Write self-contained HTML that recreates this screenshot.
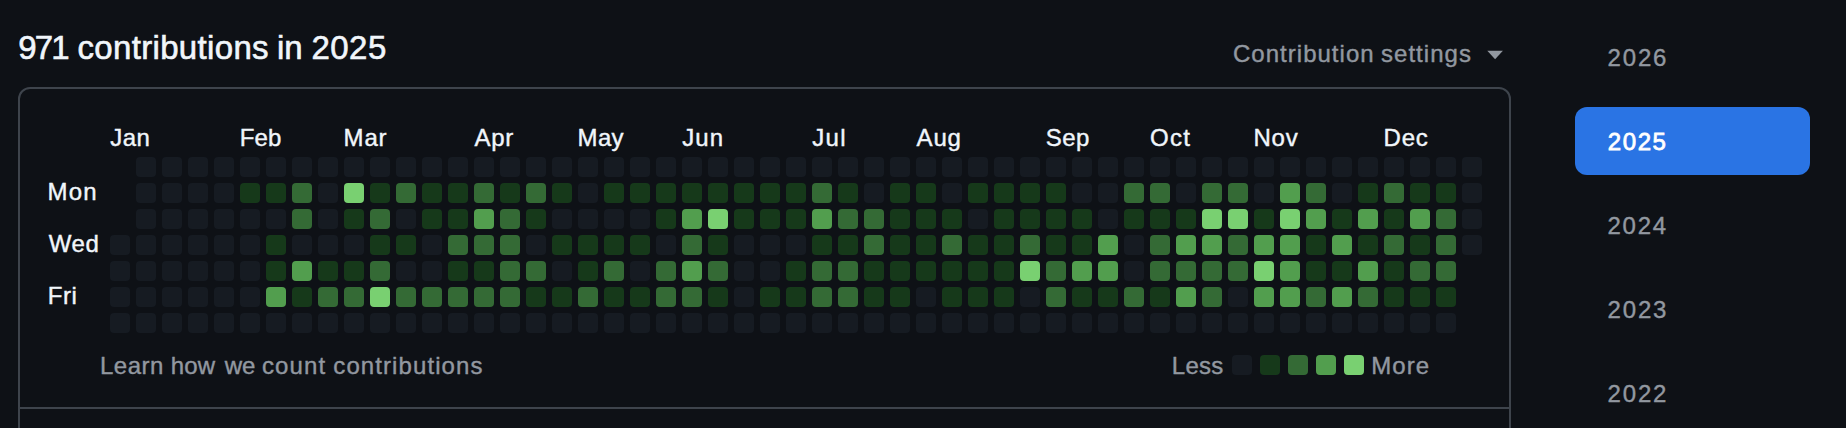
<!DOCTYPE html>
<html lang="en"><head><meta charset="utf-8"><title>Contributions</title>
<style>
html,body{margin:0;padding:0;background:#0e1116;}
body{width:1846px;height:428px;position:relative;overflow:hidden;font-family:"Liberation Sans",sans-serif;color:#f1f6fb;}
.t{position:absolute;white-space:nowrap;font-size:24px;line-height:28px;}
.m{color:#9298a0;}
.box{position:absolute;left:18px;top:87px;width:1489px;height:400px;border:2px solid #3e444c;border-radius:12px;}
.hr{position:absolute;left:20px;top:407px;width:1489px;height:2px;background:#3e444c;}
.btn{position:absolute;left:1575px;top:107px;width:235px;height:68px;border-radius:12px;background:#2a74e4;}
svg{position:absolute;left:0;top:0;}
h2{margin:0;font-weight:normal;font-size:24px;}
</style></head><body>
<div class="box"></div><div class="hr"></div>
<div class="btn"></div>
<svg width="1846" height="428" viewBox="0 0 1846 428">
<rect x="136" y="157" width="20" height="20" rx="4" fill="#161b22"/><rect x="162" y="157" width="20" height="20" rx="4" fill="#161b22"/><rect x="188" y="157" width="20" height="20" rx="4" fill="#161b22"/><rect x="214" y="157" width="20" height="20" rx="4" fill="#161b22"/><rect x="240" y="157" width="20" height="20" rx="4" fill="#161b22"/><rect x="266" y="157" width="20" height="20" rx="4" fill="#161b22"/><rect x="292" y="157" width="20" height="20" rx="4" fill="#161b22"/><rect x="318" y="157" width="20" height="20" rx="4" fill="#161b22"/><rect x="344" y="157" width="20" height="20" rx="4" fill="#161b22"/><rect x="370" y="157" width="20" height="20" rx="4" fill="#161b22"/><rect x="396" y="157" width="20" height="20" rx="4" fill="#161b22"/><rect x="422" y="157" width="20" height="20" rx="4" fill="#161b22"/><rect x="448" y="157" width="20" height="20" rx="4" fill="#161b22"/><rect x="474" y="157" width="20" height="20" rx="4" fill="#161b22"/><rect x="500" y="157" width="20" height="20" rx="4" fill="#161b22"/><rect x="526" y="157" width="20" height="20" rx="4" fill="#161b22"/><rect x="552" y="157" width="20" height="20" rx="4" fill="#161b22"/><rect x="578" y="157" width="20" height="20" rx="4" fill="#161b22"/><rect x="604" y="157" width="20" height="20" rx="4" fill="#161b22"/><rect x="630" y="157" width="20" height="20" rx="4" fill="#161b22"/><rect x="656" y="157" width="20" height="20" rx="4" fill="#161b22"/><rect x="682" y="157" width="20" height="20" rx="4" fill="#161b22"/><rect x="708" y="157" width="20" height="20" rx="4" fill="#161b22"/><rect x="734" y="157" width="20" height="20" rx="4" fill="#161b22"/><rect x="760" y="157" width="20" height="20" rx="4" fill="#161b22"/><rect x="786" y="157" width="20" height="20" rx="4" fill="#161b22"/><rect x="812" y="157" width="20" height="20" rx="4" fill="#161b22"/><rect x="838" y="157" width="20" height="20" rx="4" fill="#161b22"/><rect x="864" y="157" width="20" height="20" rx="4" fill="#161b22"/><rect x="890" y="157" width="20" height="20" rx="4" fill="#161b22"/><rect x="916" y="157" width="20" height="20" rx="4" fill="#161b22"/><rect x="942" y="157" width="20" height="20" rx="4" fill="#161b22"/><rect x="968" y="157" width="20" height="20" rx="4" fill="#161b22"/><rect x="994" y="157" width="20" height="20" rx="4" fill="#161b22"/><rect x="1020" y="157" width="20" height="20" rx="4" fill="#161b22"/><rect x="1046" y="157" width="20" height="20" rx="4" fill="#161b22"/><rect x="1072" y="157" width="20" height="20" rx="4" fill="#161b22"/><rect x="1098" y="157" width="20" height="20" rx="4" fill="#161b22"/><rect x="1124" y="157" width="20" height="20" rx="4" fill="#161b22"/><rect x="1150" y="157" width="20" height="20" rx="4" fill="#161b22"/><rect x="1176" y="157" width="20" height="20" rx="4" fill="#161b22"/><rect x="1202" y="157" width="20" height="20" rx="4" fill="#161b22"/><rect x="1228" y="157" width="20" height="20" rx="4" fill="#161b22"/><rect x="1254" y="157" width="20" height="20" rx="4" fill="#161b22"/><rect x="1280" y="157" width="20" height="20" rx="4" fill="#161b22"/><rect x="1306" y="157" width="20" height="20" rx="4" fill="#161b22"/><rect x="1332" y="157" width="20" height="20" rx="4" fill="#161b22"/><rect x="1358" y="157" width="20" height="20" rx="4" fill="#161b22"/><rect x="1384" y="157" width="20" height="20" rx="4" fill="#161b22"/><rect x="1410" y="157" width="20" height="20" rx="4" fill="#161b22"/><rect x="1436" y="157" width="20" height="20" rx="4" fill="#161b22"/><rect x="1462" y="157" width="20" height="20" rx="4" fill="#161b22"/><rect x="136" y="183" width="20" height="20" rx="4" fill="#161b22"/><rect x="162" y="183" width="20" height="20" rx="4" fill="#161b22"/><rect x="188" y="183" width="20" height="20" rx="4" fill="#161b22"/><rect x="214" y="183" width="20" height="20" rx="4" fill="#161b22"/><rect x="240" y="183" width="20" height="20" rx="4" fill="#16391a"/><rect x="266" y="183" width="20" height="20" rx="4" fill="#16391a"/><rect x="292" y="183" width="20" height="20" rx="4" fill="#346a35"/><rect x="318" y="183" width="20" height="20" rx="4" fill="#161b22"/><rect x="344" y="183" width="20" height="20" rx="4" fill="#79d071"/><rect x="370" y="183" width="20" height="20" rx="4" fill="#16391a"/><rect x="396" y="183" width="20" height="20" rx="4" fill="#346a35"/><rect x="422" y="183" width="20" height="20" rx="4" fill="#16391a"/><rect x="448" y="183" width="20" height="20" rx="4" fill="#16391a"/><rect x="474" y="183" width="20" height="20" rx="4" fill="#346a35"/><rect x="500" y="183" width="20" height="20" rx="4" fill="#16391a"/><rect x="526" y="183" width="20" height="20" rx="4" fill="#346a35"/><rect x="552" y="183" width="20" height="20" rx="4" fill="#16391a"/><rect x="578" y="183" width="20" height="20" rx="4" fill="#161b22"/><rect x="604" y="183" width="20" height="20" rx="4" fill="#16391a"/><rect x="630" y="183" width="20" height="20" rx="4" fill="#16391a"/><rect x="656" y="183" width="20" height="20" rx="4" fill="#16391a"/><rect x="682" y="183" width="20" height="20" rx="4" fill="#16391a"/><rect x="708" y="183" width="20" height="20" rx="4" fill="#16391a"/><rect x="734" y="183" width="20" height="20" rx="4" fill="#16391a"/><rect x="760" y="183" width="20" height="20" rx="4" fill="#16391a"/><rect x="786" y="183" width="20" height="20" rx="4" fill="#16391a"/><rect x="812" y="183" width="20" height="20" rx="4" fill="#346a35"/><rect x="838" y="183" width="20" height="20" rx="4" fill="#16391a"/><rect x="864" y="183" width="20" height="20" rx="4" fill="#161b22"/><rect x="890" y="183" width="20" height="20" rx="4" fill="#16391a"/><rect x="916" y="183" width="20" height="20" rx="4" fill="#16391a"/><rect x="942" y="183" width="20" height="20" rx="4" fill="#161b22"/><rect x="968" y="183" width="20" height="20" rx="4" fill="#16391a"/><rect x="994" y="183" width="20" height="20" rx="4" fill="#16391a"/><rect x="1020" y="183" width="20" height="20" rx="4" fill="#16391a"/><rect x="1046" y="183" width="20" height="20" rx="4" fill="#16391a"/><rect x="1072" y="183" width="20" height="20" rx="4" fill="#161b22"/><rect x="1098" y="183" width="20" height="20" rx="4" fill="#161b22"/><rect x="1124" y="183" width="20" height="20" rx="4" fill="#346a35"/><rect x="1150" y="183" width="20" height="20" rx="4" fill="#346a35"/><rect x="1176" y="183" width="20" height="20" rx="4" fill="#161b22"/><rect x="1202" y="183" width="20" height="20" rx="4" fill="#346a35"/><rect x="1228" y="183" width="20" height="20" rx="4" fill="#346a35"/><rect x="1254" y="183" width="20" height="20" rx="4" fill="#161b22"/><rect x="1280" y="183" width="20" height="20" rx="4" fill="#529e4e"/><rect x="1306" y="183" width="20" height="20" rx="4" fill="#346a35"/><rect x="1332" y="183" width="20" height="20" rx="4" fill="#161b22"/><rect x="1358" y="183" width="20" height="20" rx="4" fill="#16391a"/><rect x="1384" y="183" width="20" height="20" rx="4" fill="#346a35"/><rect x="1410" y="183" width="20" height="20" rx="4" fill="#16391a"/><rect x="1436" y="183" width="20" height="20" rx="4" fill="#16391a"/><rect x="1462" y="183" width="20" height="20" rx="4" fill="#161b22"/><rect x="136" y="209" width="20" height="20" rx="4" fill="#161b22"/><rect x="162" y="209" width="20" height="20" rx="4" fill="#161b22"/><rect x="188" y="209" width="20" height="20" rx="4" fill="#161b22"/><rect x="214" y="209" width="20" height="20" rx="4" fill="#161b22"/><rect x="240" y="209" width="20" height="20" rx="4" fill="#161b22"/><rect x="266" y="209" width="20" height="20" rx="4" fill="#161b22"/><rect x="292" y="209" width="20" height="20" rx="4" fill="#346a35"/><rect x="318" y="209" width="20" height="20" rx="4" fill="#161b22"/><rect x="344" y="209" width="20" height="20" rx="4" fill="#16391a"/><rect x="370" y="209" width="20" height="20" rx="4" fill="#346a35"/><rect x="396" y="209" width="20" height="20" rx="4" fill="#161b22"/><rect x="422" y="209" width="20" height="20" rx="4" fill="#16391a"/><rect x="448" y="209" width="20" height="20" rx="4" fill="#16391a"/><rect x="474" y="209" width="20" height="20" rx="4" fill="#529e4e"/><rect x="500" y="209" width="20" height="20" rx="4" fill="#346a35"/><rect x="526" y="209" width="20" height="20" rx="4" fill="#16391a"/><rect x="552" y="209" width="20" height="20" rx="4" fill="#161b22"/><rect x="578" y="209" width="20" height="20" rx="4" fill="#161b22"/><rect x="604" y="209" width="20" height="20" rx="4" fill="#161b22"/><rect x="630" y="209" width="20" height="20" rx="4" fill="#161b22"/><rect x="656" y="209" width="20" height="20" rx="4" fill="#16391a"/><rect x="682" y="209" width="20" height="20" rx="4" fill="#529e4e"/><rect x="708" y="209" width="20" height="20" rx="4" fill="#79d071"/><rect x="734" y="209" width="20" height="20" rx="4" fill="#16391a"/><rect x="760" y="209" width="20" height="20" rx="4" fill="#16391a"/><rect x="786" y="209" width="20" height="20" rx="4" fill="#16391a"/><rect x="812" y="209" width="20" height="20" rx="4" fill="#529e4e"/><rect x="838" y="209" width="20" height="20" rx="4" fill="#346a35"/><rect x="864" y="209" width="20" height="20" rx="4" fill="#346a35"/><rect x="890" y="209" width="20" height="20" rx="4" fill="#16391a"/><rect x="916" y="209" width="20" height="20" rx="4" fill="#16391a"/><rect x="942" y="209" width="20" height="20" rx="4" fill="#16391a"/><rect x="968" y="209" width="20" height="20" rx="4" fill="#161b22"/><rect x="994" y="209" width="20" height="20" rx="4" fill="#16391a"/><rect x="1020" y="209" width="20" height="20" rx="4" fill="#16391a"/><rect x="1046" y="209" width="20" height="20" rx="4" fill="#16391a"/><rect x="1072" y="209" width="20" height="20" rx="4" fill="#16391a"/><rect x="1098" y="209" width="20" height="20" rx="4" fill="#161b22"/><rect x="1124" y="209" width="20" height="20" rx="4" fill="#16391a"/><rect x="1150" y="209" width="20" height="20" rx="4" fill="#16391a"/><rect x="1176" y="209" width="20" height="20" rx="4" fill="#16391a"/><rect x="1202" y="209" width="20" height="20" rx="4" fill="#79d071"/><rect x="1228" y="209" width="20" height="20" rx="4" fill="#79d071"/><rect x="1254" y="209" width="20" height="20" rx="4" fill="#16391a"/><rect x="1280" y="209" width="20" height="20" rx="4" fill="#79d071"/><rect x="1306" y="209" width="20" height="20" rx="4" fill="#529e4e"/><rect x="1332" y="209" width="20" height="20" rx="4" fill="#16391a"/><rect x="1358" y="209" width="20" height="20" rx="4" fill="#529e4e"/><rect x="1384" y="209" width="20" height="20" rx="4" fill="#16391a"/><rect x="1410" y="209" width="20" height="20" rx="4" fill="#529e4e"/><rect x="1436" y="209" width="20" height="20" rx="4" fill="#346a35"/><rect x="1462" y="209" width="20" height="20" rx="4" fill="#161b22"/><rect x="110" y="235" width="20" height="20" rx="4" fill="#161b22"/><rect x="136" y="235" width="20" height="20" rx="4" fill="#161b22"/><rect x="162" y="235" width="20" height="20" rx="4" fill="#161b22"/><rect x="188" y="235" width="20" height="20" rx="4" fill="#161b22"/><rect x="214" y="235" width="20" height="20" rx="4" fill="#161b22"/><rect x="240" y="235" width="20" height="20" rx="4" fill="#161b22"/><rect x="266" y="235" width="20" height="20" rx="4" fill="#16391a"/><rect x="292" y="235" width="20" height="20" rx="4" fill="#161b22"/><rect x="318" y="235" width="20" height="20" rx="4" fill="#161b22"/><rect x="344" y="235" width="20" height="20" rx="4" fill="#161b22"/><rect x="370" y="235" width="20" height="20" rx="4" fill="#16391a"/><rect x="396" y="235" width="20" height="20" rx="4" fill="#16391a"/><rect x="422" y="235" width="20" height="20" rx="4" fill="#161b22"/><rect x="448" y="235" width="20" height="20" rx="4" fill="#346a35"/><rect x="474" y="235" width="20" height="20" rx="4" fill="#346a35"/><rect x="500" y="235" width="20" height="20" rx="4" fill="#346a35"/><rect x="526" y="235" width="20" height="20" rx="4" fill="#161b22"/><rect x="552" y="235" width="20" height="20" rx="4" fill="#16391a"/><rect x="578" y="235" width="20" height="20" rx="4" fill="#16391a"/><rect x="604" y="235" width="20" height="20" rx="4" fill="#16391a"/><rect x="630" y="235" width="20" height="20" rx="4" fill="#16391a"/><rect x="656" y="235" width="20" height="20" rx="4" fill="#161b22"/><rect x="682" y="235" width="20" height="20" rx="4" fill="#346a35"/><rect x="708" y="235" width="20" height="20" rx="4" fill="#16391a"/><rect x="734" y="235" width="20" height="20" rx="4" fill="#161b22"/><rect x="760" y="235" width="20" height="20" rx="4" fill="#161b22"/><rect x="786" y="235" width="20" height="20" rx="4" fill="#161b22"/><rect x="812" y="235" width="20" height="20" rx="4" fill="#16391a"/><rect x="838" y="235" width="20" height="20" rx="4" fill="#16391a"/><rect x="864" y="235" width="20" height="20" rx="4" fill="#346a35"/><rect x="890" y="235" width="20" height="20" rx="4" fill="#16391a"/><rect x="916" y="235" width="20" height="20" rx="4" fill="#16391a"/><rect x="942" y="235" width="20" height="20" rx="4" fill="#346a35"/><rect x="968" y="235" width="20" height="20" rx="4" fill="#16391a"/><rect x="994" y="235" width="20" height="20" rx="4" fill="#16391a"/><rect x="1020" y="235" width="20" height="20" rx="4" fill="#346a35"/><rect x="1046" y="235" width="20" height="20" rx="4" fill="#16391a"/><rect x="1072" y="235" width="20" height="20" rx="4" fill="#16391a"/><rect x="1098" y="235" width="20" height="20" rx="4" fill="#529e4e"/><rect x="1124" y="235" width="20" height="20" rx="4" fill="#161b22"/><rect x="1150" y="235" width="20" height="20" rx="4" fill="#346a35"/><rect x="1176" y="235" width="20" height="20" rx="4" fill="#529e4e"/><rect x="1202" y="235" width="20" height="20" rx="4" fill="#529e4e"/><rect x="1228" y="235" width="20" height="20" rx="4" fill="#346a35"/><rect x="1254" y="235" width="20" height="20" rx="4" fill="#529e4e"/><rect x="1280" y="235" width="20" height="20" rx="4" fill="#529e4e"/><rect x="1306" y="235" width="20" height="20" rx="4" fill="#16391a"/><rect x="1332" y="235" width="20" height="20" rx="4" fill="#529e4e"/><rect x="1358" y="235" width="20" height="20" rx="4" fill="#16391a"/><rect x="1384" y="235" width="20" height="20" rx="4" fill="#346a35"/><rect x="1410" y="235" width="20" height="20" rx="4" fill="#16391a"/><rect x="1436" y="235" width="20" height="20" rx="4" fill="#346a35"/><rect x="1462" y="235" width="20" height="20" rx="4" fill="#161b22"/><rect x="110" y="261" width="20" height="20" rx="4" fill="#161b22"/><rect x="136" y="261" width="20" height="20" rx="4" fill="#161b22"/><rect x="162" y="261" width="20" height="20" rx="4" fill="#161b22"/><rect x="188" y="261" width="20" height="20" rx="4" fill="#161b22"/><rect x="214" y="261" width="20" height="20" rx="4" fill="#161b22"/><rect x="240" y="261" width="20" height="20" rx="4" fill="#161b22"/><rect x="266" y="261" width="20" height="20" rx="4" fill="#16391a"/><rect x="292" y="261" width="20" height="20" rx="4" fill="#529e4e"/><rect x="318" y="261" width="20" height="20" rx="4" fill="#16391a"/><rect x="344" y="261" width="20" height="20" rx="4" fill="#16391a"/><rect x="370" y="261" width="20" height="20" rx="4" fill="#346a35"/><rect x="396" y="261" width="20" height="20" rx="4" fill="#161b22"/><rect x="422" y="261" width="20" height="20" rx="4" fill="#161b22"/><rect x="448" y="261" width="20" height="20" rx="4" fill="#16391a"/><rect x="474" y="261" width="20" height="20" rx="4" fill="#16391a"/><rect x="500" y="261" width="20" height="20" rx="4" fill="#346a35"/><rect x="526" y="261" width="20" height="20" rx="4" fill="#346a35"/><rect x="552" y="261" width="20" height="20" rx="4" fill="#161b22"/><rect x="578" y="261" width="20" height="20" rx="4" fill="#16391a"/><rect x="604" y="261" width="20" height="20" rx="4" fill="#346a35"/><rect x="630" y="261" width="20" height="20" rx="4" fill="#161b22"/><rect x="656" y="261" width="20" height="20" rx="4" fill="#346a35"/><rect x="682" y="261" width="20" height="20" rx="4" fill="#529e4e"/><rect x="708" y="261" width="20" height="20" rx="4" fill="#346a35"/><rect x="734" y="261" width="20" height="20" rx="4" fill="#161b22"/><rect x="760" y="261" width="20" height="20" rx="4" fill="#161b22"/><rect x="786" y="261" width="20" height="20" rx="4" fill="#16391a"/><rect x="812" y="261" width="20" height="20" rx="4" fill="#346a35"/><rect x="838" y="261" width="20" height="20" rx="4" fill="#346a35"/><rect x="864" y="261" width="20" height="20" rx="4" fill="#16391a"/><rect x="890" y="261" width="20" height="20" rx="4" fill="#16391a"/><rect x="916" y="261" width="20" height="20" rx="4" fill="#16391a"/><rect x="942" y="261" width="20" height="20" rx="4" fill="#16391a"/><rect x="968" y="261" width="20" height="20" rx="4" fill="#16391a"/><rect x="994" y="261" width="20" height="20" rx="4" fill="#16391a"/><rect x="1020" y="261" width="20" height="20" rx="4" fill="#79d071"/><rect x="1046" y="261" width="20" height="20" rx="4" fill="#346a35"/><rect x="1072" y="261" width="20" height="20" rx="4" fill="#529e4e"/><rect x="1098" y="261" width="20" height="20" rx="4" fill="#529e4e"/><rect x="1124" y="261" width="20" height="20" rx="4" fill="#161b22"/><rect x="1150" y="261" width="20" height="20" rx="4" fill="#346a35"/><rect x="1176" y="261" width="20" height="20" rx="4" fill="#346a35"/><rect x="1202" y="261" width="20" height="20" rx="4" fill="#346a35"/><rect x="1228" y="261" width="20" height="20" rx="4" fill="#346a35"/><rect x="1254" y="261" width="20" height="20" rx="4" fill="#79d071"/><rect x="1280" y="261" width="20" height="20" rx="4" fill="#529e4e"/><rect x="1306" y="261" width="20" height="20" rx="4" fill="#16391a"/><rect x="1332" y="261" width="20" height="20" rx="4" fill="#16391a"/><rect x="1358" y="261" width="20" height="20" rx="4" fill="#529e4e"/><rect x="1384" y="261" width="20" height="20" rx="4" fill="#16391a"/><rect x="1410" y="261" width="20" height="20" rx="4" fill="#346a35"/><rect x="1436" y="261" width="20" height="20" rx="4" fill="#346a35"/><rect x="110" y="287" width="20" height="20" rx="4" fill="#161b22"/><rect x="136" y="287" width="20" height="20" rx="4" fill="#161b22"/><rect x="162" y="287" width="20" height="20" rx="4" fill="#161b22"/><rect x="188" y="287" width="20" height="20" rx="4" fill="#161b22"/><rect x="214" y="287" width="20" height="20" rx="4" fill="#161b22"/><rect x="240" y="287" width="20" height="20" rx="4" fill="#161b22"/><rect x="266" y="287" width="20" height="20" rx="4" fill="#529e4e"/><rect x="292" y="287" width="20" height="20" rx="4" fill="#16391a"/><rect x="318" y="287" width="20" height="20" rx="4" fill="#346a35"/><rect x="344" y="287" width="20" height="20" rx="4" fill="#346a35"/><rect x="370" y="287" width="20" height="20" rx="4" fill="#79d071"/><rect x="396" y="287" width="20" height="20" rx="4" fill="#346a35"/><rect x="422" y="287" width="20" height="20" rx="4" fill="#346a35"/><rect x="448" y="287" width="20" height="20" rx="4" fill="#346a35"/><rect x="474" y="287" width="20" height="20" rx="4" fill="#346a35"/><rect x="500" y="287" width="20" height="20" rx="4" fill="#346a35"/><rect x="526" y="287" width="20" height="20" rx="4" fill="#16391a"/><rect x="552" y="287" width="20" height="20" rx="4" fill="#16391a"/><rect x="578" y="287" width="20" height="20" rx="4" fill="#346a35"/><rect x="604" y="287" width="20" height="20" rx="4" fill="#16391a"/><rect x="630" y="287" width="20" height="20" rx="4" fill="#16391a"/><rect x="656" y="287" width="20" height="20" rx="4" fill="#346a35"/><rect x="682" y="287" width="20" height="20" rx="4" fill="#346a35"/><rect x="708" y="287" width="20" height="20" rx="4" fill="#16391a"/><rect x="734" y="287" width="20" height="20" rx="4" fill="#161b22"/><rect x="760" y="287" width="20" height="20" rx="4" fill="#16391a"/><rect x="786" y="287" width="20" height="20" rx="4" fill="#16391a"/><rect x="812" y="287" width="20" height="20" rx="4" fill="#346a35"/><rect x="838" y="287" width="20" height="20" rx="4" fill="#346a35"/><rect x="864" y="287" width="20" height="20" rx="4" fill="#16391a"/><rect x="890" y="287" width="20" height="20" rx="4" fill="#16391a"/><rect x="916" y="287" width="20" height="20" rx="4" fill="#161b22"/><rect x="942" y="287" width="20" height="20" rx="4" fill="#16391a"/><rect x="968" y="287" width="20" height="20" rx="4" fill="#16391a"/><rect x="994" y="287" width="20" height="20" rx="4" fill="#16391a"/><rect x="1020" y="287" width="20" height="20" rx="4" fill="#161b22"/><rect x="1046" y="287" width="20" height="20" rx="4" fill="#346a35"/><rect x="1072" y="287" width="20" height="20" rx="4" fill="#16391a"/><rect x="1098" y="287" width="20" height="20" rx="4" fill="#16391a"/><rect x="1124" y="287" width="20" height="20" rx="4" fill="#346a35"/><rect x="1150" y="287" width="20" height="20" rx="4" fill="#16391a"/><rect x="1176" y="287" width="20" height="20" rx="4" fill="#529e4e"/><rect x="1202" y="287" width="20" height="20" rx="4" fill="#346a35"/><rect x="1228" y="287" width="20" height="20" rx="4" fill="#161b22"/><rect x="1254" y="287" width="20" height="20" rx="4" fill="#529e4e"/><rect x="1280" y="287" width="20" height="20" rx="4" fill="#529e4e"/><rect x="1306" y="287" width="20" height="20" rx="4" fill="#346a35"/><rect x="1332" y="287" width="20" height="20" rx="4" fill="#529e4e"/><rect x="1358" y="287" width="20" height="20" rx="4" fill="#346a35"/><rect x="1384" y="287" width="20" height="20" rx="4" fill="#16391a"/><rect x="1410" y="287" width="20" height="20" rx="4" fill="#16391a"/><rect x="1436" y="287" width="20" height="20" rx="4" fill="#16391a"/><rect x="110" y="313" width="20" height="20" rx="4" fill="#161b22"/><rect x="136" y="313" width="20" height="20" rx="4" fill="#161b22"/><rect x="162" y="313" width="20" height="20" rx="4" fill="#161b22"/><rect x="188" y="313" width="20" height="20" rx="4" fill="#161b22"/><rect x="214" y="313" width="20" height="20" rx="4" fill="#161b22"/><rect x="240" y="313" width="20" height="20" rx="4" fill="#161b22"/><rect x="266" y="313" width="20" height="20" rx="4" fill="#161b22"/><rect x="292" y="313" width="20" height="20" rx="4" fill="#161b22"/><rect x="318" y="313" width="20" height="20" rx="4" fill="#161b22"/><rect x="344" y="313" width="20" height="20" rx="4" fill="#161b22"/><rect x="370" y="313" width="20" height="20" rx="4" fill="#161b22"/><rect x="396" y="313" width="20" height="20" rx="4" fill="#161b22"/><rect x="422" y="313" width="20" height="20" rx="4" fill="#161b22"/><rect x="448" y="313" width="20" height="20" rx="4" fill="#161b22"/><rect x="474" y="313" width="20" height="20" rx="4" fill="#161b22"/><rect x="500" y="313" width="20" height="20" rx="4" fill="#161b22"/><rect x="526" y="313" width="20" height="20" rx="4" fill="#161b22"/><rect x="552" y="313" width="20" height="20" rx="4" fill="#161b22"/><rect x="578" y="313" width="20" height="20" rx="4" fill="#161b22"/><rect x="604" y="313" width="20" height="20" rx="4" fill="#161b22"/><rect x="630" y="313" width="20" height="20" rx="4" fill="#161b22"/><rect x="656" y="313" width="20" height="20" rx="4" fill="#161b22"/><rect x="682" y="313" width="20" height="20" rx="4" fill="#161b22"/><rect x="708" y="313" width="20" height="20" rx="4" fill="#161b22"/><rect x="734" y="313" width="20" height="20" rx="4" fill="#161b22"/><rect x="760" y="313" width="20" height="20" rx="4" fill="#161b22"/><rect x="786" y="313" width="20" height="20" rx="4" fill="#161b22"/><rect x="812" y="313" width="20" height="20" rx="4" fill="#161b22"/><rect x="838" y="313" width="20" height="20" rx="4" fill="#161b22"/><rect x="864" y="313" width="20" height="20" rx="4" fill="#161b22"/><rect x="890" y="313" width="20" height="20" rx="4" fill="#161b22"/><rect x="916" y="313" width="20" height="20" rx="4" fill="#161b22"/><rect x="942" y="313" width="20" height="20" rx="4" fill="#161b22"/><rect x="968" y="313" width="20" height="20" rx="4" fill="#161b22"/><rect x="994" y="313" width="20" height="20" rx="4" fill="#161b22"/><rect x="1020" y="313" width="20" height="20" rx="4" fill="#161b22"/><rect x="1046" y="313" width="20" height="20" rx="4" fill="#161b22"/><rect x="1072" y="313" width="20" height="20" rx="4" fill="#161b22"/><rect x="1098" y="313" width="20" height="20" rx="4" fill="#161b22"/><rect x="1124" y="313" width="20" height="20" rx="4" fill="#161b22"/><rect x="1150" y="313" width="20" height="20" rx="4" fill="#161b22"/><rect x="1176" y="313" width="20" height="20" rx="4" fill="#161b22"/><rect x="1202" y="313" width="20" height="20" rx="4" fill="#161b22"/><rect x="1228" y="313" width="20" height="20" rx="4" fill="#161b22"/><rect x="1254" y="313" width="20" height="20" rx="4" fill="#161b22"/><rect x="1280" y="313" width="20" height="20" rx="4" fill="#161b22"/><rect x="1306" y="313" width="20" height="20" rx="4" fill="#161b22"/><rect x="1332" y="313" width="20" height="20" rx="4" fill="#161b22"/><rect x="1358" y="313" width="20" height="20" rx="4" fill="#161b22"/><rect x="1384" y="313" width="20" height="20" rx="4" fill="#161b22"/><rect x="1410" y="313" width="20" height="20" rx="4" fill="#161b22"/><rect x="1436" y="313" width="20" height="20" rx="4" fill="#161b22"/>
<rect x="1232" y="355" width="20" height="20" rx="4" fill="#161b22"/><rect x="1260" y="355" width="20" height="20" rx="4" fill="#16391a"/><rect x="1288" y="355" width="20" height="20" rx="4" fill="#346a35"/><rect x="1316" y="355" width="20" height="20" rx="4" fill="#529e4e"/><rect x="1344" y="355" width="20" height="20" rx="4" fill="#79d071"/>
<polygon points="1487.3,50.8 1502.9,50.8 1495.1,59.2" fill="#9298a0"/>
</svg>
<h2><span class="t" id="t1" style="left:18.3px;top:34px;letter-spacing:-1.89px;-webkit-text-stroke:0.6px;font-size:33px;">971</span> <span class="t" id="t2" style="left:77.5px;top:34px;letter-spacing:0.33px;-webkit-text-stroke:0.6px;font-size:33px;">contributions</span> <span class="t" id="t3" style="left:276.9px;top:34px;letter-spacing:0.05px;-webkit-text-stroke:0.6px;font-size:33px;">in</span> <span class="t" id="t4" style="left:311.4px;top:34px;letter-spacing:0.51px;-webkit-text-stroke:0.6px;font-size:33px;">2025</span></h2>
<div><span class="t" id="s1" style="left:1233.0px;top:40px;letter-spacing:1.02px;-webkit-text-stroke:0.4px;color:#9298a0;">Contribution</span> <span class="t" id="s2" style="left:1381.0px;top:40px;letter-spacing:1.03px;-webkit-text-stroke:0.4px;color:#9298a0;">settings</span></div>
<div><span class="t" id="mJan" style="left:110.3px;top:124px;letter-spacing:0.44px;-webkit-text-stroke:0.4px;">Jan</span> <span class="t" id="mFeb" style="left:239.8px;top:124px;letter-spacing:0.15px;-webkit-text-stroke:0.4px;">Feb</span> <span class="t" id="mMar" style="left:343.6px;top:124px;letter-spacing:0.79px;-webkit-text-stroke:0.4px;">Mar</span> <span class="t" id="mApr" style="left:474.4px;top:124px;letter-spacing:0.79px;-webkit-text-stroke:0.4px;">Apr</span> <span class="t" id="mMay" style="left:577.6px;top:124px;letter-spacing:0.31px;-webkit-text-stroke:0.4px;">May</span> <span class="t" id="mJun" style="left:682.3px;top:124px;letter-spacing:1.06px;-webkit-text-stroke:0.4px;">Jun</span> <span class="t" id="mJul" style="left:812.3px;top:124px;letter-spacing:1.29px;-webkit-text-stroke:0.4px;">Jul</span> <span class="t" id="mAug" style="left:916.6px;top:124px;letter-spacing:0.83px;-webkit-text-stroke:0.4px;">Aug</span> <span class="t" id="mSep" style="left:1045.8px;top:124px;letter-spacing:0.37px;-webkit-text-stroke:0.4px;">Sep</span> <span class="t" id="mOct" style="left:1150.0px;top:124px;letter-spacing:1.26px;-webkit-text-stroke:0.4px;">Oct</span> <span class="t" id="mNov" style="left:1253.4px;top:124px;letter-spacing:0.78px;-webkit-text-stroke:0.4px;">Nov</span> <span class="t" id="mDec" style="left:1383.6px;top:124px;letter-spacing:0.74px;-webkit-text-stroke:0.4px;">Dec</span></div>
<div><span class="t" id="dMon" style="left:47.4px;top:178px;letter-spacing:1.32px;-webkit-text-stroke:0.4px;">Mon</span> <span class="t" id="dWed" style="left:48.7px;top:230px;letter-spacing:0.57px;-webkit-text-stroke:0.4px;">Wed</span> <span class="t" id="dFri" style="left:47.8px;top:282px;letter-spacing:0.55px;-webkit-text-stroke:0.4px;">Fri</span></div>
<div><span class="t" id="l1" style="left:100.0px;top:352px;letter-spacing:0.5px;-webkit-text-stroke:0.4px;color:#9298a0;">Learn</span> <span class="t" id="l2" style="left:170.8px;top:352px;letter-spacing:0.13px;-webkit-text-stroke:0.4px;color:#9298a0;">how</span> <span class="t" id="l3" style="left:224.8px;top:352px;letter-spacing:-0.18px;-webkit-text-stroke:0.4px;color:#9298a0;">we</span> <span class="t" id="l4" style="left:262.0px;top:352px;letter-spacing:1.12px;-webkit-text-stroke:0.4px;color:#9298a0;">count</span> <span class="t" id="l5" style="left:333.3px;top:352px;letter-spacing:1.09px;-webkit-text-stroke:0.4px;color:#9298a0;">contributions</span></div>
<div><span class="t" id="less" style="left:1171.8px;top:352px;letter-spacing:0.29px;-webkit-text-stroke:0.4px;color:#9298a0;">Less</span> <span class="t" id="more" style="left:1371.2px;top:352px;letter-spacing:1.05px;-webkit-text-stroke:0.4px;color:#9298a0;">More</span></div>
<div><span class="t" id="y2026" style="left:1607.6px;top:44px;letter-spacing:1.82px;-webkit-text-stroke:0.4px;color:#9298a0;">2026</span> <span class="t" id="y2025" style="left:1607.7px;top:128px;letter-spacing:1.63px;-webkit-text-stroke:0.8px;color:#ffffff;">2025</span> <span class="t" id="y2024" style="left:1607.6px;top:212px;letter-spacing:1.67px;-webkit-text-stroke:0.4px;color:#9298a0;">2024</span> <span class="t" id="y2023" style="left:1607.6px;top:296px;letter-spacing:1.81px;-webkit-text-stroke:0.4px;color:#9298a0;">2023</span> <span class="t" id="y2022" style="left:1607.6px;top:380px;letter-spacing:1.81px;-webkit-text-stroke:0.4px;color:#9298a0;">2022</span></div>
</body></html>
